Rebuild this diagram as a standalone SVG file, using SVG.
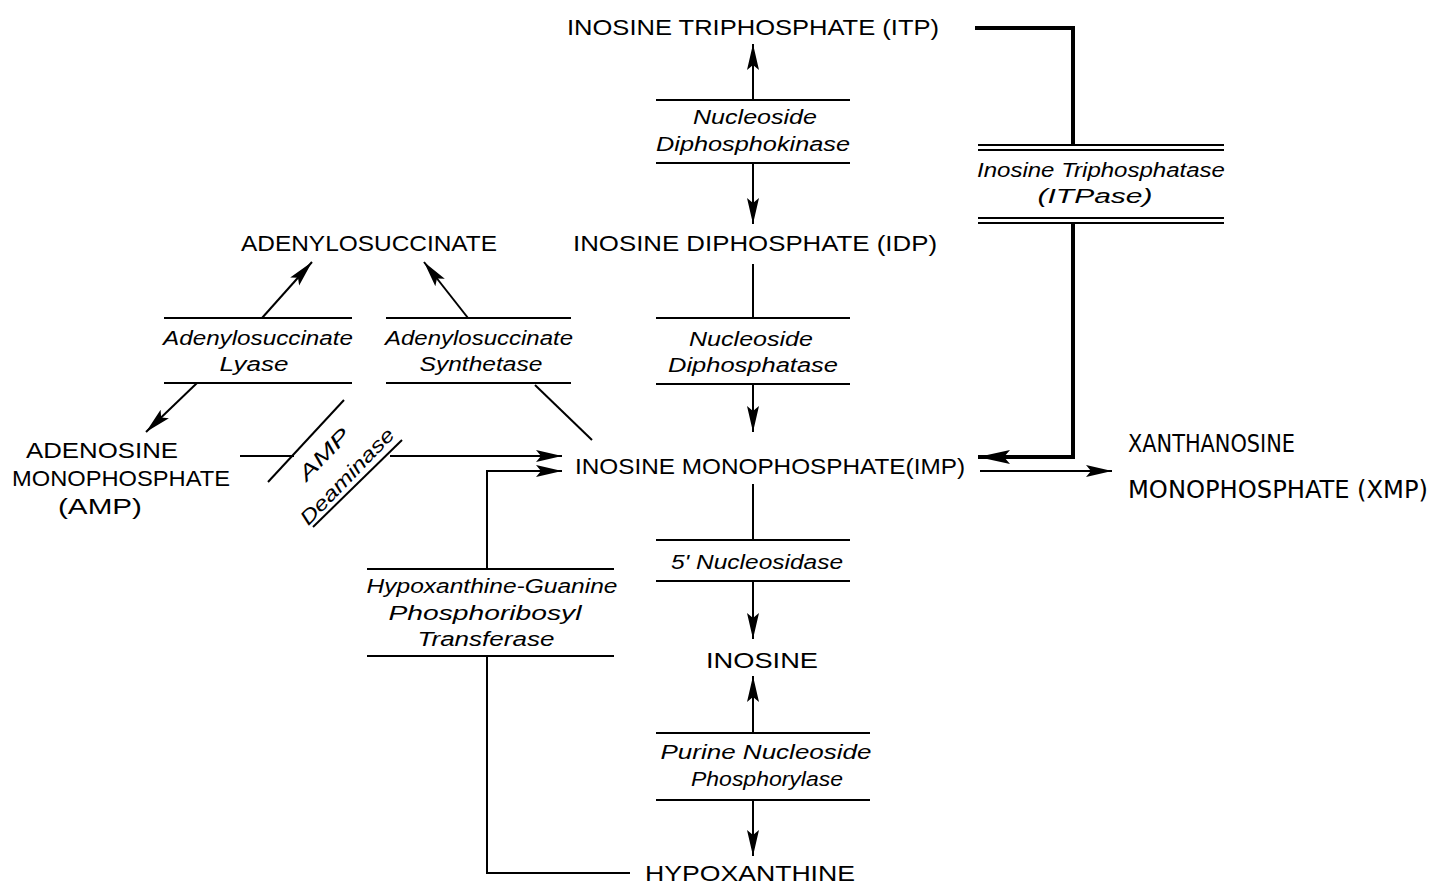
<svg xmlns="http://www.w3.org/2000/svg" width="1437" height="895" viewBox="0 0 1437 895">
<defs>
<marker id="ah" markerUnits="userSpaceOnUse" markerWidth="28" markerHeight="14" refX="26" refY="7" orient="auto">
<path d="M0,1 L26,7 L0,13 L5,7 Z" fill="#000"/>
</marker>
<marker id="ahb" markerUnits="userSpaceOnUse" markerWidth="34" markerHeight="16" refX="32" refY="8" orient="auto">
<path d="M0,1 L32,8 L0,15 L6,8 Z" fill="#000"/>
</marker>
</defs>
<style>
.n{font-family:"Liberation Sans",Arial,sans-serif;font-size:22px;fill:#000;text-anchor:middle}
.x{font-family:"DejaVu Sans Condensed","Liberation Sans",sans-serif;font-size:24px;fill:#000;font-stretch:condensed}
.e{font-family:"Liberation Sans",Arial,sans-serif;font-size:20px;font-style:italic;fill:#000;text-anchor:middle}
.l{stroke:#000;stroke-width:2;fill:none}
.b{stroke:#000;stroke-width:2;fill:none}
.h{stroke:#000;stroke-width:4;fill:none}
</style>
<rect width="1437" height="895" fill="#fff"/>

<g id="itp"><text class="n" x="753" y="35" textLength="372" lengthAdjust="spacingAndGlyphs">INOSINE TRIPHOSPHATE (ITP)</text></g>
<g id="idp"><text class="n" x="755" y="251" textLength="364" lengthAdjust="spacingAndGlyphs">INOSINE DIPHOSPHATE (IDP)</text></g>
<g id="imp"><text class="n" x="770" y="474" textLength="390" lengthAdjust="spacingAndGlyphs">INOSINE MONOPHOSPHATE(IMP)</text></g>
<g id="inosine"><text class="n" x="762" y="668" textLength="112" lengthAdjust="spacingAndGlyphs">INOSINE</text></g>
<g id="hypoxanthine"><text class="n" x="750" y="881" textLength="210" lengthAdjust="spacingAndGlyphs">HYPOXANTHINE</text></g>
<g id="adenylosuccinate"><text class="n" x="369" y="251" textLength="256" lengthAdjust="spacingAndGlyphs">ADENYLOSUCCINATE</text></g>
<g id="amp">
<text class="n" x="102" y="458" textLength="152" lengthAdjust="spacingAndGlyphs">ADENOSINE</text>
<text class="n" x="121" y="486" textLength="218" lengthAdjust="spacingAndGlyphs">MONOPHOSPHATE</text>
<text class="n" x="100" y="514" textLength="84" lengthAdjust="spacingAndGlyphs">(AMP)</text>
</g>
<g id="xmp">
<text class="x" x="1128" y="452" textLength="167" lengthAdjust="spacingAndGlyphs">XANTHANOSINE</text>
<text class="x" x="1128" y="498" textLength="300" lengthAdjust="spacingAndGlyphs">MONOPHOSPHATE (XMP)</text>
</g>

<g id="enz-ndpk">
<line class="b" x1="656" y1="100" x2="850" y2="100"/>
<text class="e" x="755" y="124" textLength="124" lengthAdjust="spacingAndGlyphs">Nucleoside</text>
<text class="e" x="753" y="151" textLength="194" lengthAdjust="spacingAndGlyphs">Diphosphokinase</text>
<line class="b" x1="656" y1="163" x2="850" y2="163"/>
</g>
<g id="enz-ndp">
<line class="b" x1="656" y1="318" x2="850" y2="318"/>
<text class="e" x="751" y="346" textLength="124" lengthAdjust="spacingAndGlyphs">Nucleoside</text>
<text class="e" x="753" y="372" textLength="170" lengthAdjust="spacingAndGlyphs">Diphosphatase</text>
<line class="b" x1="656" y1="384" x2="850" y2="384"/>
</g>
<g id="enz-5n">
<line class="b" x1="656" y1="540" x2="850" y2="540"/>
<text class="e" x="757" y="569" textLength="172" lengthAdjust="spacingAndGlyphs">5' Nucleosidase</text>
<line class="b" x1="656" y1="581" x2="850" y2="581"/>
</g>
<g id="enz-pnp">
<line class="b" x1="656" y1="733" x2="870" y2="733"/>
<text class="e" x="766" y="759" textLength="211" lengthAdjust="spacingAndGlyphs">Purine Nucleoside</text>
<text class="e" x="767" y="786" textLength="152" lengthAdjust="spacingAndGlyphs">Phosphorylase</text>
<line class="b" x1="656" y1="800" x2="870" y2="800"/>
</g>
<g id="enz-hgprt">
<line class="b" x1="367" y1="569" x2="614" y2="569"/>
<text class="e" x="492" y="593" textLength="251" lengthAdjust="spacingAndGlyphs">Hypoxanthine-Guanine</text>
<text class="e" x="485" y="620" textLength="193" lengthAdjust="spacingAndGlyphs">Phosphoribosyl</text>
<text class="e" x="486" y="646" textLength="137" lengthAdjust="spacingAndGlyphs">Transferase</text>
<line class="b" x1="367" y1="656" x2="614" y2="656"/>
</g>
<g id="enz-lyase">
<line class="b" x1="164" y1="318" x2="352" y2="318"/>
<text class="e" x="258" y="345" textLength="190" lengthAdjust="spacingAndGlyphs">Adenylosuccinate</text>
<text class="e" x="254" y="371" textLength="69" lengthAdjust="spacingAndGlyphs">Lyase</text>
<line class="b" x1="164" y1="383" x2="352" y2="383"/>
</g>
<g id="enz-synth">
<line class="b" x1="386" y1="318" x2="571" y2="318"/>
<text class="e" x="479" y="345" textLength="188" lengthAdjust="spacingAndGlyphs">Adenylosuccinate</text>
<text class="e" x="481" y="371" textLength="123" lengthAdjust="spacingAndGlyphs">Synthetase</text>
<line class="b" x1="386" y1="383" x2="571" y2="383"/>
</g>
<g id="enz-ampd">
<line class="b" x1="268" y1="482" x2="344" y2="400"/>
<line class="b" x1="313" y1="527" x2="402" y2="440"/>
<text class="e" transform="translate(329,459) rotate(-46)" textLength="64" lengthAdjust="spacingAndGlyphs">AMP</text>
<text class="e" transform="translate(352,481) rotate(-46)" textLength="126" lengthAdjust="spacingAndGlyphs">Deaminase</text>
</g>
<g id="enz-itpase">
<line class="b" x1="978" y1="145" x2="1224" y2="145"/>
<line class="b" x1="978" y1="150" x2="1224" y2="150"/>
<text class="e" x="1101" y="177" textLength="248" lengthAdjust="spacingAndGlyphs">Inosine Triphosphatase</text>
<text class="e" x="1095" y="203" textLength="115" lengthAdjust="spacingAndGlyphs">(ITPase)</text>
<line class="b" x1="978" y1="218" x2="1224" y2="218"/>
<line class="b" x1="978" y1="223" x2="1224" y2="223"/>
</g>

<g id="connectors">
<line class="l" x1="753" y1="100" x2="753" y2="44" marker-end="url(#ah)"/>
<line class="l" x1="753" y1="163" x2="753" y2="224" marker-end="url(#ah)"/>
<line class="l" x1="753" y1="264" x2="753" y2="318"/>
<line class="l" x1="753" y1="384" x2="753" y2="432" marker-end="url(#ah)"/>
<line class="l" x1="753" y1="484" x2="753" y2="540"/>
<line class="l" x1="753" y1="581" x2="753" y2="639" marker-end="url(#ah)"/>
<line class="l" x1="753" y1="733" x2="753" y2="676" marker-end="url(#ah)"/>
<line class="l" x1="753" y1="800" x2="753" y2="856" marker-end="url(#ah)"/>
<polyline class="l" points="630,873 487,873 487,656"/>
<polyline class="l" points="487,569 487,471 562,471" marker-end="url(#ah)"/>
<line class="l" x1="240" y1="456" x2="294" y2="456"/>
<line class="l" x1="390" y1="456" x2="562" y2="456" marker-end="url(#ah)"/>
<line class="l" x1="262" y1="318" x2="312" y2="262" marker-end="url(#ah)"/>
<line class="l" x1="197" y1="383" x2="146" y2="432" marker-end="url(#ah)"/>
<line class="l" x1="468" y1="318" x2="424" y2="262" marker-end="url(#ah)"/>
<line class="l" x1="592" y1="440" x2="535" y2="385"/>
<polyline class="h" points="975,28 1073,28 1073,145"/>
<polyline class="h" points="1073,223 1073,457 978,457" marker-end="url(#ahb)"/>
<line class="l" x1="980" y1="471" x2="1112" y2="471" marker-end="url(#ah)"/>
</g>
</svg>
